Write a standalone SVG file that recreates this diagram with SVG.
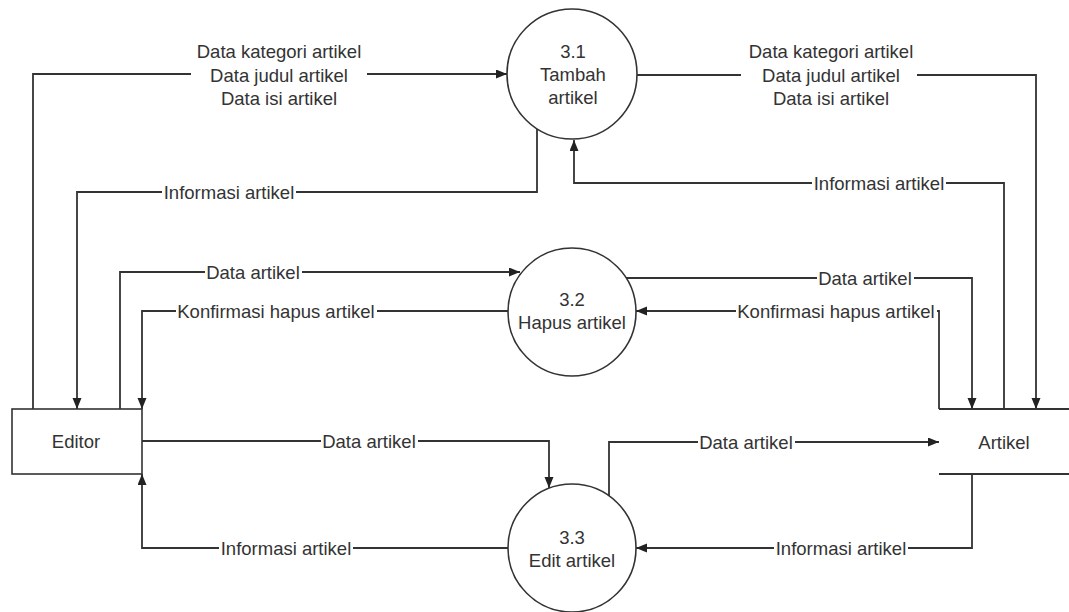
<svg xmlns="http://www.w3.org/2000/svg" width="1069" height="612" viewBox="0 0 1069 612">
<style>
  .bg { fill: #ffffff; }
  .shape { fill: #ffffff; stroke: #333333; stroke-width: 1.6; }
  .line { fill: none; stroke: #333333; stroke-width: 1.8; }
  .conn { fill: none; stroke: #333333; stroke-width: 1.8; marker-end: url(#arrow); }
  .mask { fill: #ffffff; stroke: none; }
  text { font-family: "Liberation Sans", Arial, sans-serif; font-size: 18.5px; fill: #333333; text-anchor: middle; dominant-baseline: central; }
</style>
<defs>
  <marker id="arrow" markerWidth="12" markerHeight="10" refX="11" refY="4.5" orient="auto" markerUnits="userSpaceOnUse">
    <path d="M0,0 L11,4.5 L0,9 z" fill="#222222"/>
  </marker>
</defs>
<rect class="bg" x="0" y="0" width="1069" height="612"/>

<g id="connectors">
  <path class="conn" d="M33,409 V74 H191 M367,74 H507"/>
  <path class="conn" d="M637,75 H741 M917,75 H1036 V409"/>
  <path class="conn" d="M537,129 V192 H77 V409"/>
  <path class="conn" d="M1004,409 V183 H574 V140"/>
  <path class="conn" d="M120,409 V272 H520"/>
  <path class="conn" d="M508,311 H142 V409"/>
  <path class="conn" d="M626,278 H972 V409"/>
  <path class="conn" d="M939,409 V311 H636"/>
  <path class="conn" d="M142,441 H549 V488"/>
  <path class="conn" d="M508,548 H142 V474"/>
  <path class="conn" d="M609,496 V442 H939"/>
  <path class="conn" d="M972,474 V548 H636"/>

  <g id="label-masks">
    <rect class="mask" x="162" y="184" width="134" height="16"/>
    <rect class="mask" x="812" y="175" width="134" height="16"/>
    <rect class="mask" x="205" y="264" width="97" height="16"/>
    <rect class="mask" x="176" y="303" width="201" height="16"/>
    <rect class="mask" x="817" y="270" width="97" height="16"/>
    <rect class="mask" x="736" y="303" width="201" height="16"/>
    <rect class="mask" x="321" y="433" width="97" height="16"/>
    <rect class="mask" x="219" y="540" width="134" height="16"/>
    <rect class="mask" x="698" y="434" width="97" height="16"/>
    <rect class="mask" x="774" y="540" width="134" height="16"/>
  </g>

  <g id="labels">
    <text x="279" y="51">Data kategori artikel</text>
    <text x="279" y="75">Data judul artikel</text>
    <text x="279" y="98">Data isi artikel</text>
    <text x="831" y="51">Data kategori artikel</text>
    <text x="831" y="75">Data judul artikel</text>
    <text x="831" y="98">Data isi artikel</text>
    <text x="229" y="192">Informasi artikel</text>
    <text x="879" y="183">Informasi artikel</text>
    <text x="253" y="272">Data artikel</text>
    <text x="276" y="311">Konfirmasi hapus artikel</text>
    <text x="865" y="278">Data artikel</text>
    <text x="836" y="311">Konfirmasi hapus artikel</text>
    <text x="369" y="441">Data artikel</text>
    <text x="286" y="548">Informasi artikel</text>
    <text x="746" y="442">Data artikel</text>
    <text x="841" y="548">Informasi artikel</text>
  </g>
</g>

<g id="editor">
  <rect class="shape" x="12" y="409" width="130" height="65"/>
  <text x="76" y="441">Editor</text>
</g>

<g id="artikel">
  <path class="line" d="M939,409 H1069 M939,474 H1069"/>
  <text x="1004" y="442">Artikel</text>
</g>

<g id="p31">
  <circle class="shape" cx="572" cy="74" r="65"/>
  <text x="573" y="51">3.1</text>
  <text x="573" y="74">Tambah</text>
  <text x="573" y="97">artikel</text>
</g>

<g id="p32">
  <circle class="shape" cx="572" cy="312" r="64"/>
  <text x="572" y="299">3.2</text>
  <text x="572" y="322">Hapus artikel</text>
</g>

<g id="p33">
  <circle class="shape" cx="572" cy="548" r="64"/>
  <text x="572" y="537">3.3</text>
  <text x="572" y="560">Edit artikel</text>
</g>
</svg>
